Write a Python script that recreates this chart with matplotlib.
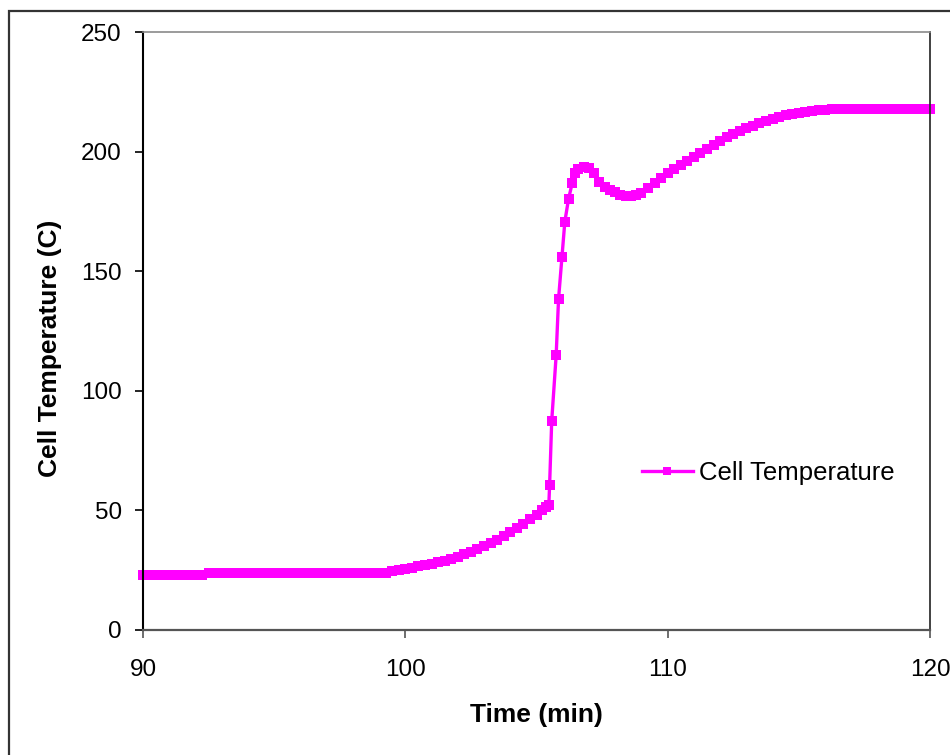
import numpy as np
import matplotlib
matplotlib.use('Agg')
import matplotlib.pyplot as plt
from matplotlib.patches import Rectangle

plt.rcParams['font.family'] = ['Liberation Sans', 'DejaVu Sans']

# values
time_min = [90.0, 90.25, 90.5, 90.75, 91.0, 91.25, 91.5, 91.75, 92.0, 92.25,
            92.5, 92.75, 93.0, 93.25, 93.5, 93.75, 94.0, 94.25, 94.5, 94.75,
            95.0, 95.25, 95.5, 95.75, 96.0, 96.25, 96.5, 96.75, 97.0, 97.25,
            97.5, 97.75, 98.0, 98.25, 98.5, 98.75, 99.0, 99.25,
            99.5, 99.75, 100.0, 100.25, 100.5, 100.75, 101.0, 101.25, 101.5, 101.75,
            102.0, 102.25, 102.5, 102.75, 103.0, 103.25, 103.5, 103.75, 104.0, 104.25,
            104.5, 104.75, 105.0, 105.2, 105.35, 105.47,
            105.5, 105.58, 105.75, 105.84, 105.97, 106.08, 106.22, 106.36, 106.47,
            106.6, 106.8, 107.0, 107.2, 107.4, 107.6, 107.8, 108.0, 108.2, 108.4,
            108.6, 108.8, 109.0, 109.25, 109.5, 109.75,
            110.0, 110.25, 110.5, 110.75, 111.0, 111.25, 111.5, 111.75, 112.0, 112.25,
            112.5, 112.75, 113.0, 113.25, 113.5, 113.75, 114.0, 114.25, 114.5, 114.75,
            115.0, 115.25, 115.5, 115.75, 116.0, 116.25, 116.5, 116.75, 117.0, 117.25,
            117.5, 117.75, 118.0, 118.25, 118.5, 118.75, 119.0, 119.25, 119.5, 119.75,
            120.0]
cell_temp = [23.2, 23.2, 23.2, 23.2, 23.2, 23.2, 23.2, 23.2, 23.2, 23.2,
             24.0, 24.0, 24.0, 24.0, 24.0, 24.0, 24.0, 24.0, 24.0, 24.0,
             24.0, 24.0, 24.0, 24.0, 24.0, 24.0, 24.0, 24.0, 24.0, 24.0,
             24.0, 24.0, 24.0, 24.0, 24.0, 24.0, 24.0, 24.0,
             24.6, 25.0, 25.6, 26.0, 26.6, 27.2, 27.8, 28.4, 29.0, 29.8,
             30.7, 31.6, 32.6, 34.0, 35.3, 36.4, 37.8, 39.4, 41.0, 42.8,
             44.5, 46.4, 48.2, 50.0, 51.4, 52.3,
             60.7, 87.4, 115.0, 138.4, 156.0, 170.8, 180.2, 186.9, 191.3,
             193.0, 193.8, 193.2, 191.0, 187.5, 185.3, 184.0, 183.0, 182.0, 181.4,
             181.4, 182.0, 182.9, 184.8, 186.8, 188.9,
             191.0, 192.8, 194.5, 196.3, 198.0, 199.7, 201.3, 202.9, 204.4, 206.0,
             207.4, 208.7, 209.9, 211.0, 212.0, 213.0, 213.8, 214.6, 215.3, 215.9,
             216.4, 216.8, 217.2, 217.5, 217.7, 217.9, 218.0, 218.0, 218.0, 218.0,
             218.0, 218.0, 218.0, 218.0, 218.0, 218.0, 218.0, 218.0, 218.0, 218.0,
             218.0]
x_ticks = [90, 100, 110, 120]
y_ticks = [0, 50, 100, 150, 200, 250]

W, H = 950, 755
fig = plt.figure(figsize=(W / 100, H / 100), dpi=100)
ax = fig.add_axes([143 / W, 1 - 630 / H, (930 - 143) / W, (630 - 32.3) / H])

# outer chart-area frame (cut off at right and bottom in the reference)
fig.patches.append(Rectangle((9 / W, -0.1), 1.2, 1 - 10.5 / H + 0.1,
                             transform=fig.transFigure, fill=False,
                             edgecolor='#333333', linewidth=1.6, clip_on=False))

ax.plot(time_min, cell_temp, color='#FF00FF', linewidth=2.4, marker='s',
        markersize=6.6, markeredgewidth=0, label='Cell Temperature', clip_on=False)

ax.set_xlim(90, 120)
ax.set_ylim(0, 250)
ax.set_xticks(x_ticks)
ax.set_yticks(y_ticks)

ax.spines['left'].set_color('#000000')
ax.spines['left'].set_linewidth(1.5)
ax.spines['bottom'].set_color('#555555')
ax.spines['bottom'].set_linewidth(1.6)
ax.spines['top'].set_color('#8a8a8a')
ax.spines['top'].set_linewidth(1.2)
ax.spines['right'].set_color('#333333')
ax.spines['right'].set_linewidth(1.3)

ax.tick_params(axis='y', direction='out', length=5.8, width=1.2, color='#000000',
               labelsize=17.5, pad=9.5)
ax.tick_params(axis='x', direction='out', length=5.8, width=1.2, color='#555555',
               labelsize=17.5, pad=15)

ax.set_xlabel('Time (min)', fontsize=19, fontweight='bold')
ax.set_ylabel('Cell Temperature (C)', fontsize=19, fontweight='bold')
ax.xaxis.set_label_coords(0.5, -(703 - 630) / 597.7)
ax.xaxis.label.set_va('top')
ax.yaxis.set_label_coords(-(143 - 62) / 787, (630 - 348) / 597.7)

leg = ax.legend(loc='center left', bbox_to_anchor=((641.7 - 143) / 787, (630 - 473.3) / 597.7),
                frameon=False, fontsize=18.5, handlelength=2.0, handletextpad=0.22,
                borderpad=0, borderaxespad=0, numpoints=1)
leg.get_lines()[0].set_markersize(5.5)

fig.savefig('out.png', dpi=100)
